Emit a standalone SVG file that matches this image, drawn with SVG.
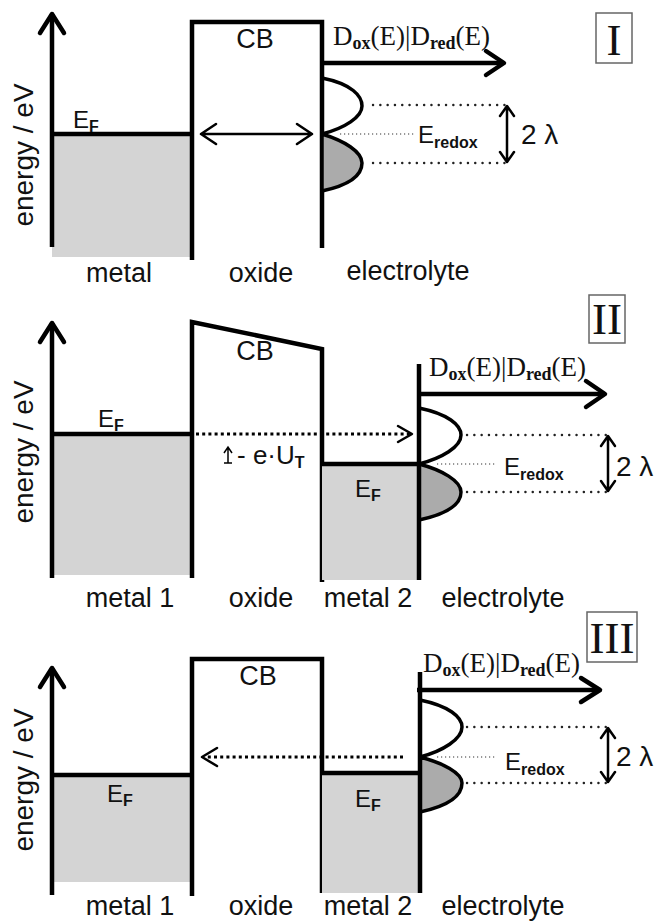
<svg xmlns="http://www.w3.org/2000/svg" width="664" height="921" viewBox="0 0 664 921">
<style>
.ln{stroke:#000;stroke-width:4.5;fill:none;stroke-linejoin:miter}
.chev{stroke:#000;stroke-width:4.5;fill:none;stroke-linecap:round;stroke-linejoin:round}
.thin{stroke:#000;stroke-width:2.5;fill:none;stroke-linecap:round;stroke-linejoin:round}
.metal{fill:#d4d4d4}
.ox{stroke:#000;stroke-width:3.5;fill:none}
.red{stroke:#000;stroke-width:3.5;fill:#ababab}
.dot{stroke:#222;stroke-width:2.4;stroke-dasharray:0.1 7.2;stroke-linecap:round;fill:none}
.fdot{stroke:#333;stroke-width:1.2;stroke-dasharray:1.2 2.8;fill:none}
.darr{stroke:#000;stroke-width:3;stroke-dasharray:3 3.2;fill:none}
.box{fill:none;stroke:#666;stroke-width:1.5}
.s{font-family:"Liberation Sans",Arial,sans-serif;fill:#111}
.lab{font-size:27px;text-anchor:middle}
.e{font-size:24px}
.sub{font-size:16px;font-weight:bold}
.lam{font-size:28px}
.rs{font-family:"Liberation Serif","Times New Roman",serif;fill:#111}
.dos{font-size:27px}
.dsub{font-size:18px;font-weight:bold}
.rom{font-size:45px;text-anchor:middle}
</style>

<!-- Panel I -->
<g id="p1-metal">
<rect class="metal" x="52" y="134" width="140" height="123"/>
<path class="ln" d="M52 134H192"/>
<text class="s e" x="73" y="128">E<tspan class="sub" dy="4">F</tspan></text>
</g>
<g id="p1-oxide">
<path class="ln" d="M192 260V22H322V248"/>
<text class="s lab" x="255" y="48">CB</text>
</g>
<g id="p1-electrolyte">
<path class="ox" d="M322 78C352 84 362 96 362 106C362 117 345 128 322 134"/>
<path class="red" d="M322 134C345 141 362 152 362 163C362 175 350 185 322 191Z"/>
<path class="dot" d="M373 105H505M373 163H505"/>
<path class="fdot" d="M340 134H415"/>
<text class="s e" x="418" y="143">E<tspan class="sub" dy="5">redox</tspan></text>
<text class="s lam" x="521" y="144">2 λ</text>
<text class="rs dos" x="333" y="45">D<tspan class="dsub" dy="4">ox</tspan><tspan dy="-4">(E)|D</tspan><tspan class="dsub" dy="4">red</tspan><tspan dy="-4">(E)</tspan></text>
</g>
<g id="p1-labels">
<text class="s" font-size="28" text-anchor="middle" transform="translate(33,155) rotate(-90)">energy / eV</text>
<text class="s lab" x="119" y="282">metal</text>
<text class="s lab" x="261" y="282">oxide</text>
<text class="s lab" x="408" y="280">electrolyte</text>
<rect class="box" x="596" y="13" width="36" height="50"/>
<text class="rs rom" x="614" y="55">I</text>
</g>

<!-- Panel II -->
<g id="p2-metal1">
<rect class="metal" x="52" y="434" width="140" height="141"/>
<path class="ln" d="M52 434H192"/>
<text class="s e" x="98" y="427">E<tspan class="sub" dy="4">F</tspan></text>
</g>
<g id="p2-oxide">
<path class="ln" d="M192 578V322L322 349V582"/>
<text class="s lab" x="255" y="360">CB</text>
</g>
<g id="p2-metal2">
<rect class="metal" x="322" y="464" width="97" height="116"/>
<path class="ln" d="M322 464H419"/>
<text class="s e" x="355" y="497">E<tspan class="sub" dy="4">F</tspan></text>
</g>
<g id="p2-electrolyte">
<path class="ox" d="M419 408C448 414 461 425 461 435C461 447 442 458 419 464"/>
<path class="red" d="M419 464C442 470 461 481 461 492C461 504 447 514 419 520Z"/>
<path class="dot" d="M467 435H610M467 492H610"/>
<path class="fdot" d="M437 464H497"/>
<text class="s e" x="504" y="475">E<tspan class="sub" dy="5">redox</tspan></text>
<text class="s lam" x="616" y="476">2 λ</text>
<text class="rs dos" x="429" y="376">D<tspan class="dsub" dy="4">ox</tspan><tspan dy="-4">(E)|D</tspan><tspan class="dsub" dy="4">red</tspan><tspan dy="-4">(E)</tspan></text>
</g>
<g id="p2-labels">
<text class="s" font-size="28" text-anchor="middle" transform="translate(33,452) rotate(-90)">energy / eV</text>
<text class="s lab" x="130" y="607">metal 1</text>
<text class="s lab" x="261" y="607">oxide</text>
<text class="s lab" x="368" y="607">metal 2</text>
<text class="s lab" x="503" y="607">electrolyte</text>
<text class="s" font-size="26" x="237" y="464">- e·U<tspan class="sub" dy="4">T</tspan></text>
<rect class="box" x="589" y="295" width="36" height="48"/>
<text class="rs rom" x="607" y="334">II</text>
</g>

<!-- Panel III -->
<g id="p3-metal1">
<rect class="metal" x="52" y="775" width="140" height="107"/>
<path class="ln" d="M52 775H192"/>
<text class="s e" x="107" y="802">E<tspan class="sub" dy="4">F</tspan></text>
</g>
<g id="p3-oxide">
<path class="ln" d="M192 896V659H322V893"/>
<text class="s lab" x="258" y="685">CB</text>
</g>
<g id="p3-metal2">
<rect class="metal" x="322" y="773" width="98" height="120"/>
<path class="ln" d="M322 773H420"/>
<text class="s e" x="355" y="807">E<tspan class="sub" dy="4">F</tspan></text>
</g>
<g id="p3-electrolyte">
<path class="ox" d="M420 700C449 706 462 717 462 727C462 739 443 751 420 757"/>
<path class="red" d="M420 757C443 763 462 773 462 783C462 796 448 806 420 812Z"/>
<path class="dot" d="M467 727H610M467 783H610"/>
<path class="fdot" d="M437 757H497"/>
<text class="s e" x="505" y="770">E<tspan class="sub" dy="5">redox</tspan></text>
<text class="s lam" x="616" y="766">2 λ</text>
<text class="rs dos" x="423" y="672">D<tspan class="dsub" dy="4">ox</tspan><tspan dy="-4">(E)|D</tspan><tspan class="dsub" dy="4">red</tspan><tspan dy="-4">(E)</tspan></text>
</g>
<g id="p3-labels">
<text class="s" font-size="28" text-anchor="middle" transform="translate(33,780) rotate(-90)">energy / eV</text>
<text class="s lab" x="130" y="915">metal 1</text>
<text class="s lab" x="261" y="915">oxide</text>
<text class="s lab" x="368" y="915">metal 2</text>
<text class="s lab" x="503" y="915">electrolyte</text>
<rect class="box" x="587" y="612" width="50" height="50"/>
<text class="rs rom" x="612" y="653">III</text>
</g>

<!-- Connectors -->
<g id="connectors">
<!-- Panel I -->
<path class="ln" d="M52 247V14"/>
<path class="chev" d="M40 33L52 14L64 33"/>
<path class="ln" d="M322 63H503"/>
<path class="chev" d="M486 51L504 63L486 75"/>
<path class="thin" d="M201 134H312M216 124L201 134L216 144M297 124L312 134L297 144"/>
<path class="thin" d="M507 107V161M500 116L507 106L514 116M500 152L507 162L514 152"/>
<!-- Panel II -->
<path class="ln" d="M52 578V323"/>
<path class="chev" d="M40 342L52 323L64 342"/>
<path class="ln" d="M419 580V364"/>
<path class="ln" d="M419 394H603"/>
<path class="chev" d="M586 381L605 394L586 407"/>
<path class="darr" d="M196 434H410"/>
<path class="thin" d="M398 426L412 434L398 442"/>
<path class="thin" d="M608 437V490M601 446L608 436L615 446M601 481L608 491L615 481"/>
<path stroke="#000" stroke-width="1.5" fill="none" d="M228 463V448M224 453L228 447L232 453M224 463H232"/>
<!-- Panel III -->
<path class="ln" d="M52 895V668"/>
<path class="chev" d="M40 687L52 668L64 687"/>
<path class="ln" d="M420 893V672"/>
<path class="ln" d="M417 690H598"/>
<path class="chev" d="M581 678L600 690L581 702"/>
<path class="darr" d="M403 757H205"/>
<path class="thin" d="M217 748L202 757L217 766"/>
<path class="thin" d="M608 729V781M601 738L608 728L615 738M601 772L608 782L615 772"/>
</g>
</svg>
